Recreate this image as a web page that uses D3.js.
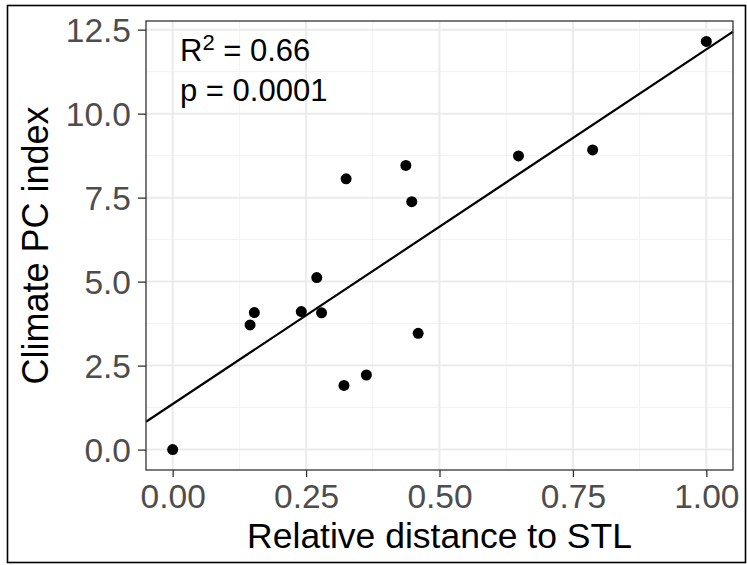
<!DOCTYPE html>
<html>
<head>
<meta charset="utf-8">
<script src="https://cdn.jsdelivr.net/npm/d3@7"></script>
<style>
  body { margin: 0; background: #fff; }
  svg { display: block; font-family: "Liberation Sans", Arial, Helvetica, sans-serif; }
</style>
</head>
<body>
<div id="chart"></div>
<script>
// relative distance to STL
const distance = [0, 1.00, 0.787, 0.648, 0.437, 0.325, 0.448, 0.270, 0.153, 0.145, 0.241, 0.279, 0.460, 0.363, 0.321];
// climate PC index
const climate = [0, 12.15, 8.92, 8.74, 8.46, 8.06, 7.38, 5.12, 4.08, 3.71, 4.11, 4.07, 3.46, 2.22, 1.91];
const xTicks = [0, 0.25, 0.5, 0.75, 1.0];
const yTicks = [0, 2.5, 5, 7.5, 10, 12.5];
const r2Text = "0.66";
const pText = "0.0001";

const width = 747, height = 565;
const margin = {top: 21, right: 14, bottom: 95, left: 146};

const svg = d3.select('#chart').append('svg')
    .attr('width', width)
    .attr('height', height);

// outer frame
svg.append('rect')
    .attr('x', 7.5).attr('y', 5.5)
    .attr('width', 738).attr('height', 557)
    .attr('fill', 'none')
    .attr('stroke', '#000')
    .attr('stroke-width', 1.6);

const points = distance.map((d, i) => ({x: d, y: climate[i]}));

// ggplot style 5% expansion
const xExt = d3.extent(distance), yExt = d3.extent(climate);
const xPad = (xExt[1] - xExt[0]) * 0.05, yPad = (yExt[1] - yExt[0]) * 0.05;

const x = d3.scaleLinear()
    .domain([xExt[0] - xPad, xExt[1] + xPad])
    .range([margin.left, width - margin.right]);
const y = d3.scaleLinear()
    .domain([yExt[0] - yPad, yExt[1] + yPad])
    .range([height - margin.bottom, margin.top]);

const g = svg.append('g');

// minor grid
const xMinor = xTicks.slice(0, -1).map((t, i) => (t + xTicks[i + 1]) / 2);
const yMinor = yTicks.slice(0, -1).map((t, i) => (t + yTicks[i + 1]) / 2);
g.selectAll('.xminor').data(xMinor).enter().append('line')
    .attr('x1', d => x(d)).attr('x2', d => x(d))
    .attr('y1', y.range()[0]).attr('y2', y.range()[1])
    .attr('stroke', '#f2f2f2').attr('stroke-width', 1);
g.selectAll('.yminor').data(yMinor).enter().append('line')
    .attr('x1', x.range()[0]).attr('x2', x.range()[1])
    .attr('y1', d => y(d)).attr('y2', d => y(d))
    .attr('stroke', '#f2f2f2').attr('stroke-width', 1);

// major grid
g.selectAll('.xmajor').data(xTicks).enter().append('line')
    .attr('x1', d => x(d)).attr('x2', d => x(d))
    .attr('y1', y.range()[0]).attr('y2', y.range()[1])
    .attr('stroke', '#ebebeb').attr('stroke-width', 2);
g.selectAll('.ymajor').data(yTicks).enter().append('line')
    .attr('x1', x.range()[0]).attr('x2', x.range()[1])
    .attr('y1', d => y(d)).attr('y2', d => y(d))
    .attr('stroke', '#ebebeb').attr('stroke-width', 2);

// linear fit
const mx = d3.mean(distance), my = d3.mean(climate);
const slope = d3.sum(points, p => (p.x - mx) * (p.y - my)) / d3.sum(points, p => (p.x - mx) ** 2);
const intercept = my - slope * mx;
const xd = x.domain();
g.append('line')
    .attr('x1', x(xd[0])).attr('y1', y(intercept + slope * xd[0]))
    .attr('x2', x(xd[1])).attr('y2', y(intercept + slope * xd[1]))
    .attr('stroke', '#000')
    .attr('stroke-width', 2.2);

// points
g.selectAll('circle')
    .data(points)
    .enter().append('circle')
    .attr('cx', d => x(d.x))
    .attr('cy', d => y(d.y))
    .attr('r', 5.5)
    .attr('fill', '#000');

// panel border
svg.append('rect')
    .attr('x', x.range()[0]).attr('y', y.range()[1])
    .attr('width', x.range()[1] - x.range()[0])
    .attr('height', y.range()[0] - y.range()[1])
    .attr('fill', 'none')
    .attr('stroke', '#333')
    .attr('stroke-width', 1.3);

// axes
const xAxis = svg.append('g')
    .attr('transform', `translate(0,${y.range()[0]})`)
    .call(d3.axisBottom(x).tickValues(xTicks).tickFormat(d3.format('.2f')).tickSizeOuter(0).tickSize(7).tickPadding(7));
const yAxis = svg.append('g')
    .attr('transform', `translate(${x.range()[0]},0)`)
    .call(d3.axisLeft(y).tickValues(yTicks).tickFormat(d3.format('.1f')).tickSizeOuter(0).tickSize(8).tickPadding(7));

[xAxis, yAxis].forEach(a => {
    a.select('.domain').remove();
    a.selectAll('.tick line').attr('stroke', '#333').attr('stroke-width', 1.3);
    a.selectAll('.tick text')
        .attr('fill', '#4d4d4d')
        .style('font-size', '33.5px')
        .style('font-family', '"Liberation Sans", Arial, sans-serif');
});
yAxis.selectAll('.tick text').attr('dy', '0.36em');

// axis titles
svg.append('text')
    .attr('x', (x.range()[0] + x.range()[1]) / 2)
    .attr('y', 548)
    .attr('text-anchor', 'middle')
    .style('font-size', '35.5px')
    .attr('fill', '#000')
    .text('Relative distance to STL');

svg.append('text')
    .attr('transform', `translate(47.5,${(y.range()[0] + y.range()[1]) / 2}) rotate(-90)`)
    .attr('text-anchor', 'middle')
    .style('font-size', '36px')
    .attr('fill', '#000')
    .text('Climate PC index');

// stats annotation
const r2 = svg.append('text')
    .attr('x', 180).attr('y', 61)
    .style('font-size', '31px')
    .attr('fill', '#000');
r2.append('tspan').text('R');
r2.append('tspan').attr('dy', -11).style('font-size', '22px').text('2');
r2.append('tspan').attr('dy', 11).text(' = ' + r2Text);

svg.append('text')
    .attr('x', 180).attr('y', 101)
    .style('font-size', '31px')
    .attr('fill', '#000')
    .text('p = ' + pText);
</script>
</body>
</html>
